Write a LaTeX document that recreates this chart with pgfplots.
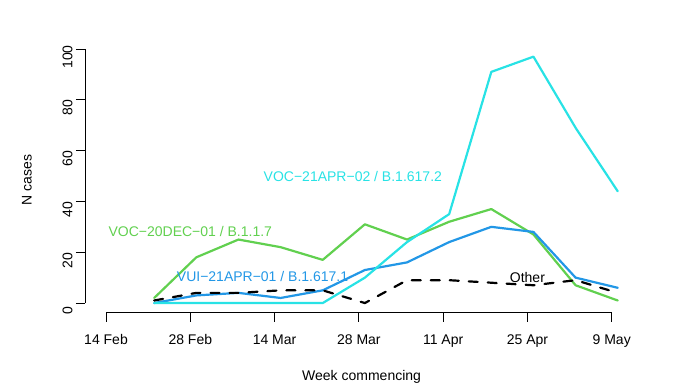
\documentclass[border=0pt]{standalone}
\usepackage{fontspec}
\setmainfont{Liberation Sans}
\usepackage{pgfplots}
\pgfplotsset{compat=1.18}
\definecolor{rgreen}{HTML}{61D04F}
\definecolor{rblue}{HTML}{2297E6}
\definecolor{rcyan}{HTML}{28E2E5}
\pgfplotstableread{
day green blue cyan other
8   2   0   0   1
15  18  3   0   4
22  25  4   0   4
29  22  2   0   5
36  17  5   0   5
43  31  13  10  0
50  25  16  24  9
57  32  24  35  9
64  37  30  91  8
71  27  28  97  7
78  7   10  69  9
85  1   6   44  4
}\cases
\begin{document}
\begin{tikzpicture}[x=1pt,y=1pt]
\useasboundingbox (0,0) rectangle (686,388);
\begin{axis}[
  at={(85pt,75.1pt)}, anchor=south west,
  scale only axis, width=553.2pt, height=266.1pt,
  xmin=-3.49, xmax=88.4, ymin=-3.88, ymax=100.88,
  axis x line*=bottom, axis y line*=left,
  axis line style={draw=none},
  tick align=outside, major tick length=9pt,
  tick style={black, line width=0.8pt},
  xtick={0,14,...,84},
  xticklabels={14 Feb,28 Feb,14 Mar,28 Mar,11 Apr,25 Apr,9 May},
  ytick={0,20,...,100},
  /pgf/number format/assume math mode=true,
  tick label style={font=\fontsize{14}{16}\selectfont},
  yticklabel style={rotate=90, anchor=south, xshift=-8pt},
  xticklabel style={anchor=north, yshift=-9pt},
  label style={font=\fontsize{14}{16}\selectfont},
  xlabel={Week commencing}, ylabel={N cases},
  xlabel style={at={(axis description cs:0.5,-0.24)}, anchor=center},
  ylabel style={at={(axis description cs:-0.105,0.5)}, anchor=center},
  clip=false,
  every axis plot/.append style={line width=2.2pt, line join=round, line cap=round},
]
\draw[line width=0.8pt] (axis cs:0,-3.88) -- (axis cs:84,-3.88);
\draw[line width=0.8pt] (axis cs:-3.49,0) -- (axis cs:-3.49,100);
\addplot[rgreen] table[x=day, y=green] {\cases};
\addplot[rblue] table[x=day, y=blue] {\cases};
\addplot[rcyan] table[x=day, y=cyan] {\cases};
\addplot[black, dash pattern=on 9pt off 10pt] table[x=day, y=other] {\cases};
\node[rgreen, font=\fontsize{14}{16}\selectfont] at (axis cs:14,28) {VOC−20DEC−01 / B.1.1.7};
\node[rcyan, font=\fontsize{14}{16}\selectfont] at (axis cs:41,50) {VOC−21APR−02 / B.1.617.2};
\node[rblue, font=\fontsize{14}{16}\selectfont] at (axis cs:26,10.4) {VUI−21APR−01 / B.1.617.1};
\node[black, font=\fontsize{14}{16}\selectfont] at (axis cs:70,10.2) {Other};
\end{axis}
\end{tikzpicture}
\end{document}
